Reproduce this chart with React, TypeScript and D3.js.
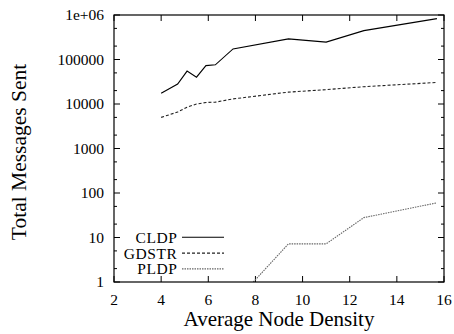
import { useEffect, useRef } from "react";
import * as d3 from "d3";

// average node density (x) for each sample
const density = [4, 4.7, 5.1, 5.5, 5.9, 6.3, 7.05, 9.4, 11, 12.6, 15.7];
const cldp = [17400, 28000, 55000, 40000, 73000, 76000, 173000, 290000, 246000, 445000, 830000];
const gdstr = [5000, 6600, 8500, 10000, 10800, 11000, 13000, 18500, 21000, 24500, 30500];
// PLDP has no samples below density 7
const pldpDensity = [7.05, 9.4, 11, 12.6, 15.7];
const pldp = [0.32, 7.2, 7.2, 28, 60];

const xTicks = [2, 4, 6, 8, 10, 12, 14, 16];
const yTicks = [1, 10, 100, 1000, 10000, 100000, 1000000];
const yTickLabels = ["1", "10", "100", "1000", "10000", "100000", "1e+06"];

const seriesNames = ["CLDP", "GDSTR", "PLDP"];

export default function App() {
  const svgRef = useRef<SVGSVGElement>(null);

  useEffect(() => {
    if (!svgRef.current) return;
    const width = 454;
    const height = 334;
    const svg = d3.select(svgRef.current);
    svg.selectAll("*").remove();

    const margin = { top: 15, right: 10, bottom: 52, left: 114 };
    const w = width - margin.left - margin.right;
    const h = height - margin.top - margin.bottom;
    const font = "'Liberation Serif', 'Times New Roman', serif";

    const x = d3.scaleLinear().domain([2, 16]).range([0, w]);
    const y = d3.scaleLog().domain([1, 1e6]).range([h, 0]);

    const g = svg
      .append("g")
      .attr("transform", `translate(${margin.left},${margin.top})`);

    g.append("defs")
      .append("clipPath")
      .attr("id", "plotclip")
      .append("rect")
      .attr("width", w)
      .attr("height", h);

    // ticks, mirrored on all four sides like gnuplot
    const tickLen = 6;
    const minorLen = 3;
    xTicks.forEach((t) => {
      g.append("line").attr("x1", x(t)).attr("x2", x(t)).attr("y1", h).attr("y2", h - tickLen).attr("stroke", "#000");
      g.append("line").attr("x1", x(t)).attr("x2", x(t)).attr("y1", 0).attr("y2", tickLen).attr("stroke", "#000");
      g.append("text")
        .attr("x", x(t))
        .attr("y", h + 23)
        .attr("text-anchor", "middle")
        .style("font-family", font)
        .style("font-size", "15.5px")
        .text(t);
    });

    yTicks.forEach((t, i) => {
      g.append("line").attr("x1", 0).attr("x2", tickLen).attr("y1", y(t)).attr("y2", y(t)).attr("stroke", "#000");
      g.append("line").attr("x1", w).attr("x2", w - tickLen).attr("y1", y(t)).attr("y2", y(t)).attr("stroke", "#000");
      g.append("text")
        .attr("x", -10)
        .attr("y", y(t))
        .attr("dy", "0.35em")
        .attr("text-anchor", "end")
        .style("font-family", font)
        .style("font-size", "15.5px")
        .text(yTickLabels[i]);
      if (t < 1e6) {
        [2, 5].forEach((m) => {
          const v = t * m;
          g.append("line").attr("x1", 0).attr("x2", minorLen).attr("y1", y(v)).attr("y2", y(v)).attr("stroke", "#000");
          g.append("line").attr("x1", w).attr("x2", w - minorLen).attr("y1", y(v)).attr("y2", y(v)).attr("stroke", "#000");
        });
      }
    });

    const line = d3
      .line<[number, number]>()
      .x((d) => x(d[0]))
      .y((d) => y(Math.max(d[1], 0.01)));

    const series = [
      { name: seriesNames[0], xs: density, ys: cldp, color: "#000", dash: null, width: 1.1 },
      { name: seriesNames[1], xs: density, ys: gdstr, color: "#222", dash: "3,2", width: 1.1 },
      { name: seriesNames[2], xs: pldpDensity, ys: pldp, color: "#666", dash: "1.5,1", width: 1.1 },
    ];

    const plot = g.append("g").attr("clip-path", "url(#plotclip)");
    series.forEach((s) => {
      plot
        .append("path")
        .datum(s.xs.map((d, i) => [d, s.ys[i]] as [number, number]))
        .attr("fill", "none")
        .attr("stroke", s.color)
        .attr("stroke-width", s.width)
        .attr("stroke-dasharray", s.dash)
        .attr("d", line);
    });

    // legend
    series.forEach((s, i) => {
      const ly = 222.3 + i * 15.8;
      g.append("text")
        .attr("x", 63.5)
        .attr("y", ly)
        .attr("dy", "0.35em")
        .attr("text-anchor", "end")
        .style("font-family", font)
        .style("font-size", "15.5px")
        .style("letter-spacing", "0.6px")
        .text(s.name);
      g.append("line")
        .attr("x1", 68)
        .attr("x2", 110)
        .attr("y1", ly)
        .attr("y2", ly)
        .attr("stroke", s.color)
        .attr("stroke-width", s.width)
        .attr("stroke-dasharray", s.dash);
    });

    // frame
    g.append("rect")
      .attr("width", w)
      .attr("height", h)
      .attr("fill", "none")
      .attr("stroke", "#000")
      .attr("stroke-width", 1.2);

    // axis titles
    g.append("text")
      .attr("x", w / 2)
      .attr("y", h + 44)
      .attr("text-anchor", "middle")
      .style("font-family", font)
      .style("font-size", "21px")
      .text("Average Node Density");

    g.append("text")
      .attr("transform", `translate(${-margin.left + 26},137) rotate(-90)`)
      .attr("text-anchor", "middle")
      .style("font-family", font)
      .style("font-size", "21.5px")
      .text("Total Messages Sent");
  }, []);

  return (
    <svg
      ref={svgRef}
      width={454}
      height={334}
      style={{ position: "absolute", left: 0, top: 0, background: "#fff" }}
    />
  );
}
